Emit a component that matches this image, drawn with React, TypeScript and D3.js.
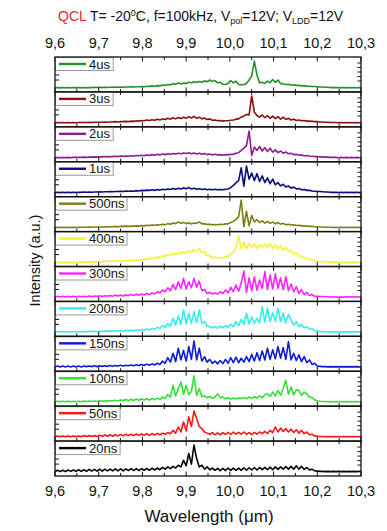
import React from 'react';
import * as d3 from 'd3';

// wavelength sampling grid (µm)
const gridStart = 9.6;
const gridStep = 0.006;

const xTickValues = [9.6, 9.7, 9.8, 9.9, 10.0, 10.1, 10.2, 10.3];
const xTickLabels = ['9,6', '9,7', '9,8', '9,9', '10,0', '10,1', '10,2', '10,3'];
const minorTickValues = [9.65, 9.75, 9.85, 9.95, 10.05, 10.15, 10.25];

const seriesLabels = ['4us', '3us', '2us', '1us', '500ns', '400ns', '300ns', '200ns', '150ns', '100ns', '50ns', '20ns'];
const seriesColors = ['#23902a', '#8a1010', '#8e1c8e', '#0c0c80', '#7d7d12', '#f4f232', '#ff22ff', '#36ecec', '#0c1cd0', '#34e034', '#ff1414', '#050505'];

const s4us = [
  2,3,2,3,2,3,2,3,2,3, 2,3,2,3,3,4,3,4,3,4, 3,4,4,5,4,5,4,5,5,6, 5,6,6,7,6,8,7,9,8,10,
  9,12,11,14,13,17,15,20,16,19, 18,22,20,24,21,25,22,27,24,30, 25,28,20,22,15,14,18,28,20,26,
  14,12,14,18,30,45,98,48,20,22, 18,26,20,32,22,30,18,16,14,15, 12,13,11,11,9,10,8,8,7,7,
  6,5,5,4,4,3,3,3,3,2, 3,2,3,2,3,2,3,2];
const s3us = [
  2,3,2,3,2,3,2,3,2,3, 3,3,3,4,3,4,4,4,4,5, 4,5,5,6,5,6,6,7,6,8, 7,9,8,10,9,12,10,13,11,15,
  12,16,14,18,15,20,16,21,17,22, 18,24,19,25,18,22,16,19,14,16, 11,12,9,10,8,9,9,11,12,15,
  16,22,26,32,30,98,40,28,22,30, 20,28,18,26,17,24,15,22,14,18, 12,15,10,12,9,10,8,8,7,6,
  6,5,5,4,4,3,3,3,2,3, 2,3,2,3,2,3,2,3];
const s2us = [
  2,3,2,3,2,3,2,3,3,3, 3,4,3,4,4,5,4,5,5,6, 5,6,6,7,6,8,7,8,7,9, 8,10,9,11,9,12,10,13,11,14,
  12,15,13,16,14,17,15,18,16,19, 17,20,16,19,15,18,14,17,13,15, 12,14,12,13,11,13,12,14,14,18,
  20,28,36,45,97,10,40,28,42,26, 38,24,36,22,30,20,26,18,22,16, 18,13,14,11,12,9,10,8,7,6,
  6,5,5,4,4,3,3,3,2,3, 2,3,2,3,2,3,2,3];
const s1us = [
  2,3,2,3,2,3,2,3,2,3, 3,4,3,4,3,4,4,5,4,5, 5,6,5,6,6,7,6,8,7,8, 7,9,8,10,9,11,10,12,10,13,
  11,14,12,15,13,17,14,18,15,19, 16,20,15,18,14,16,13,15,12,14, 12,14,12,13,12,14,15,20,28,37,
  45,91,25,97,50,72,45,70,42,62, 38,55,34,50,30,38,26,32,22,26, 18,22,15,17,12,13,10,10,8,7,
  6,6,5,4,4,3,3,3,2,3, 2,3,2,3,2,3,2,3];
const s500ns = [
  2,3,2,3,2,3,2,3,2,3, 3,3,3,4,3,4,4,4,4,5, 4,5,5,6,5,6,6,7,6,7, 7,8,7,9,8,10,9,11,10,12,
  11,14,12,16,14,18,16,22,17,20, 16,19,15,18,17,22,15,16,13,14, 12,13,12,14,13,15,15,20,24,31,
  40,100,5,60,8,45,22,30,20,26, 18,24,17,22,15,20,14,17,12,14, 11,12,9,10,8,8,7,6,6,5,
  5,4,4,3,3,3,2,3,2,3, 2,3,2,3,2,3,2,3];
const s400ns = [
  2,3,2,3,2,3,2,3,2,3, 3,4,3,4,4,5,4,5,5,6, 5,6,6,7,6,8,7,9,8,10, 9,11,10,13,12,15,14,18,16,22,
  20,26,24,30,28,34,30,38,33,40, 36,44,38,48,42,52,36,40,26,28, 18,22,17,20,18,22,24,32,40,54,
  98,50,75,52,70,55,68,52,66,56, 68,54,70,52,66,50,62,46,56,40, 46,32,36,24,26,18,18,12,12,8,
  7,5,5,4,4,3,3,3,2,3, 2,3,2,3,2,3,2,3];
const s300ns = [
  3,6,3,6,3,6,3,6,3,6, 4,6,4,7,4,7,5,8,5,8, 6,9,6,10,7,10,7,11,8,12, 9,13,10,14,11,16,12,18,14,22,
  18,28,22,36,26,48,30,58,34,70, 32,58,36,70,38,60,26,30,16,20, 14,18,14,22,16,28,18,38,22,46,
  24,54,96,20,72,26,76,28,64,34, 94,30,82,32,86,34,72,30,76,26, 50,22,40,16,30,12,20,9,12,6,
  6,5,5,4,4,3,4,3,3,3, 3,4,3,4,3,4,3,4];
const s200ns = [
  3,5,3,5,3,5,3,5,3,5, 3,5,4,6,4,6,4,6,5,7, 5,7,5,8,6,8,6,9,7,10, 7,11,8,12,9,14,10,16,12,20,
  16,26,20,34,24,52,28,60,30,82, 32,70,34,76,36,82,34,40,24,22, 18,22,17,24,18,26,20,30,22,40,
  26,48,30,70,32,56,34,52,36,94, 38,88,40,72,42,88,40,70,36,66, 46,28,40,22,30,18,22,14,14,8,
  6,5,4,4,3,4,3,4,3,4, 3,4,3,4,3,4,3,4];
const s150ns = [
  3,6,3,6,3,6,3,6,3,6, 3,6,4,6,4,7,4,7,5,7, 5,8,5,8,6,9,6,9,7,10, 7,11,8,12,8,13,9,14,10,16,
  12,24,16,36,20,52,22,70,28,62, 24,76,30,96,28,70,24,40,20,30, 16,24,14,26,15,30,16,36,18,38,
  18,34,20,40,22,48,24,54,26,60, 28,70,30,64,32,76,34,72,30,94, 28,52,26,46,22,40,18,28,12,16,
  6,5,4,4,3,4,3,4,3,4, 3,4,3,4,3,4,3,4];
const s100ns = [
  3,5,3,5,3,5,3,5,3,5, 3,6,4,6,4,6,4,7,5,7, 5,8,6,9,6,10,7,11,7,12, 8,13,8,14,9,14,9,15,10,16,
  12,20,16,30,20,62,24,50,74,30, 62,28,40,96,26,50,22,24,18,22, 16,20,32,18,20,14,18,13,17,13,
  18,14,19,14,20,15,22,16,24,18, 28,32,22,38,24,44,26,52,80,30, 56,28,46,44,26,38,32,20,18,10,
  7,5,4,4,3,4,3,4,3,4, 3,4,3,4,3,4,3,4];
const s50ns = [
  3,6,3,6,3,6,3,6,3,6, 3,7,4,7,4,7,4,8,5,9, 5,10,5,10,6,11,6,12,7,12, 7,13,8,13,8,14,8,14,9,15,
  10,16,12,18,14,26,16,38,20,56, 24,74,40,95,68,40,32,20,16,12, 18,10,17,10,18,11,19,11,20,12,
  19,12,20,12,18,11,19,12,20,14, 22,15,26,18,38,20,34,22,32,20, 30,18,28,16,26,14,20,10,12,6,
  5,4,4,3,4,3,4,3,4,3, 4,3,4,3,4,3,4,3];
const s20ns = [
  3,8,3,8,3,9,4,9,4,10, 4,10,4,11,5,11,5,12,5,12, 6,12,6,13,6,13,6,13,7,14, 7,14,7,14,8,15,8,16,9,16,
  10,18,12,20,14,22,16,26,20,44, 24,68,30,98,50,20,26,12,20,10, 16,8,15,7,15,7,16,8,16,8,
  16,8,17,8,17,9,18,9,18,10, 18,10,19,10,20,11,20,12,21,12, 22,12,24,12,22,11,18,9,12,6,
  5,4,4,3,4,3,4,3,4,3, 4,3,4,3,4,3,4,3];

const seriesValues = [s4us, s3us, s2us, s1us, s500ns, s400ns, s300ns, s200ns, s150ns, s100ns, s50ns, s20ns];

const FONT = '"Liberation Sans", Arial, Helvetica, sans-serif';

export default function App() {
  const W = 387, H = 531;
  const left = 55, right = 361, top = 57, bottom = 476;
  const n = seriesValues.length;
  const ph = (bottom - top) / n;

  const x = d3.scaleLinear().domain([9.6, 10.3]).range([left, right]);
  const allTicks = [...xTickValues, ...minorTickValues];

  return (
    <svg width={W} height={H} style={{ position: 'absolute', left: 0, top: 0, background: '#fff' }} fontFamily={FONT}>
      <defs>
        <clipPath id="plotclip">
          <rect x={left} y={top} width={right - left} height={bottom - top} />
        </clipPath>
      </defs>
      {/* title */}
      <text x={58} y={21} fontSize={14} fill="#111">
        <tspan fill="#e0282e">QCL</tspan>
        <tspan>{' T= -20'}</tspan>
        <tspan dy={-5} fontSize={9}>0</tspan>
        <tspan dy={5}>{'C, f=100kHz, V'}</tspan>
        <tspan dy={3} fontSize={9}>pol</tspan>
        <tspan dy={-3}>{'=12V; V'}</tspan>
        <tspan dy={3} fontSize={9}>LDD</tspan>
        <tspan dy={-3}>=12V</tspan>
      </text>
      {/* top tick labels */}
      {xTickValues.map((v, i) => (
        <text key={'tt' + i} x={x(v)} y={48} fontSize={14.5} textAnchor="middle" fill="#111">{xTickLabels[i]}</text>
      ))}
      {/* bottom tick labels */}
      {xTickValues.map((v, i) => (
        <text key={'bt' + i} x={x(v)} y={496} fontSize={14.5} textAnchor="middle" fill="#111">{xTickLabels[i]}</text>
      ))}
      <text x={(left + right) / 2 + 1} y={522} fontSize={17} textAnchor="middle" fill="#111">Wavelength (μm)</text>
      <text transform={`translate(40,${(top + bottom) / 2 - 6}) rotate(-90)`} fontSize={14.5} textAnchor="middle" fill="#111">Intensity (a.u.)</text>

      {seriesValues.map((vals, k) => {
        const pTop = top + k * ph;
        const pBot = pTop + ph;
        const y = d3.scaleLinear().domain([0, 100]).range([pBot - 3.5, pTop + 3.5]);
        const pts: [number, number][] = vals.map((v, i) => [gridStart + i * gridStep, v]);
        const line = d3.line<[number, number]>().x(d => x(d[0])).y(d => y(d[1]));
        const label = seriesLabels[k];
        const boxW = 34 + label.length * 6.9 + 3;
        return (
          <g key={label}>
            <path d={line(pts) || ''} fill="none" stroke={seriesColors[k]} strokeWidth={1.6} clipPath="url(#plotclip)" strokeLinejoin="round" />
            {/* ticks top and bottom */}
            {allTicks.map((t, i) => {
              const major = i < xTickValues.length;
              const len = major ? 4.5 : 3;
              return (
                <g key={'t' + i} stroke="#111" strokeWidth={1}>
                  <line x1={x(t)} x2={x(t)} y1={pTop} y2={pTop + len} />
                  <line x1={x(t)} x2={x(t)} y1={pBot} y2={pBot - len} />
                </g>
              );
            })}
            {/* y ticks */}
            {[18, 23].map((o, i) => (
              <line key={'yl' + i} x1={left} x2={left + 4} y1={pTop + o} y2={pTop + o} stroke="#111" strokeWidth={1} />
            ))}
            {[6, 10.5, 15, 19.5, 24].map((o, i) => (
              <line key={'yr' + i} x1={right} x2={right - 3.5} y1={pTop + o} y2={pTop + o} stroke="#111" strokeWidth={1} />
            ))}
            {/* legend */}
            <rect x={left + 0.5} y={pTop + 0.5} width={boxW} height={13} fill="#fff" stroke="#999" strokeWidth={1} />
            <line x1={left + 4} x2={left + 31} y1={pTop + 7} y2={pTop + 7} stroke={seriesColors[k]} strokeWidth={2.4} />
            <text x={left + 34} y={pTop + 11.5} fontSize={13} fill="#111">{label}</text>
            <rect x={left} y={pTop} width={right - left} height={ph} fill="none" stroke="#111" strokeWidth={1.3} />
          </g>
        );
      })}
    </svg>
  );
}
